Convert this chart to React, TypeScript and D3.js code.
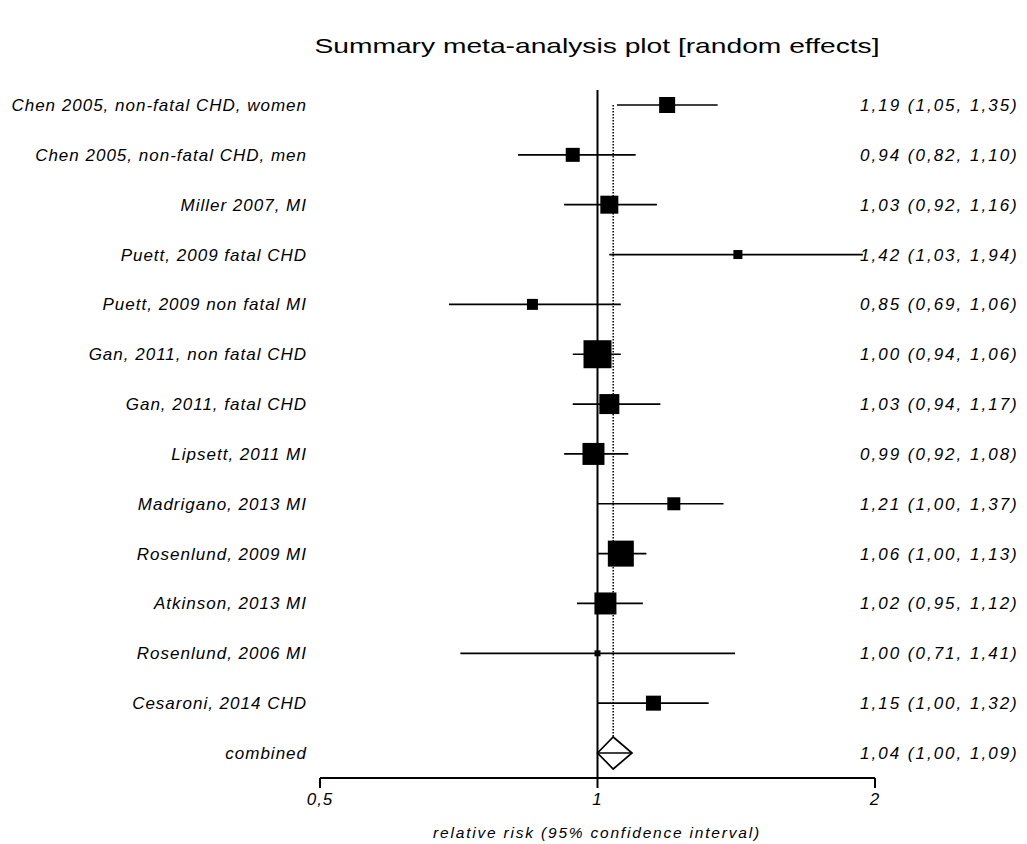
import React from 'react';
import * as d3 from 'd3';

// study rows
const studies = [
    "Chen 2005, non-fatal CHD, women",
    "Chen 2005, non-fatal CHD, men",
    "Miller 2007, MI",
    "Puett, 2009 fatal CHD",
    "Puett, 2009 non fatal MI",
    "Gan, 2011, non fatal CHD",
    "Gan, 2011, fatal CHD",
    "Lipsett, 2011 MI",
    "Madrigano, 2013 MI",
    "Rosenlund, 2009 MI",
    "Atkinson, 2013 MI",
    "Rosenlund, 2006 MI",
    "Cesaroni, 2014 CHD",
];
const rr = [1.19, 0.94, 1.03, 1.42, 0.85, 1.00, 1.03, 0.99, 1.21, 1.06, 1.02, 1.00, 1.15];
const lower = [1.05, 0.82, 0.92, 1.03, 0.69, 0.94, 0.94, 0.92, 1.00, 1.00, 0.95, 0.71, 1.00];
const upper = [1.35, 1.10, 1.16, 1.94, 1.06, 1.06, 1.17, 1.08, 1.37, 1.13, 1.12, 1.41, 1.32];
// relative weights (square side)
const weights = [16, 14, 18, 9, 11, 28, 20, 22, 13, 26, 22, 6, 15];

const combinedLabel = "combined";
const combined = [1.04, 1.00, 1.09];

const xTicks = [0.5, 1, 2];
const xTickLabels = ["0,5", "1", "2"];

const fmt = (v: number) => d3.format(".2f")(v).replace(".", ",");

export default function App() {
    const width = 1027;
    const height = 844;
    const font = "'Liberation Sans', Arial, sans-serif";

    const x = d3.scaleLog().base(2).domain([0.5, 2]).range([320, 875]);
    const rows = d3.range(studies.length + 1);
    const y = d3.scalePoint<number>().domain(rows).range([105, 753]);

    const axisY = 778;
    const yc = y(studies.length) as number;
    const dh = 16;

    const labelProps = { fontSize: 17, fontStyle: "italic", letterSpacing: 1.0 } as const;
    const valueProps = { fontSize: 17, fontStyle: "italic", letterSpacing: 2.0 } as const;

    return (
        <svg width={width} height={height} style={{ position: 'absolute', left: 0, top: 0, background: '#fff' }}
            fontFamily={font}>
            <text x={597} y={53} textAnchor="middle" fontSize={21} textLength={565} lengthAdjust="spacingAndGlyphs">
                Summary meta-analysis plot [random effects]
            </text>

            {/* null line */}
            <line x1={x(1)} x2={x(1)} y1={90} y2={axisY} stroke="#000" strokeWidth={2} />
            {/* combined estimate line */}
            <line x1={x(combined[0])} x2={x(combined[0])} y1={y(0)} y2={yc - dh}
                stroke="#000" strokeWidth={1.5} strokeDasharray="1.5,1.5" />

            {studies.map((s, i) => {
                const yy = y(i) as number;
                const w = weights[i];
                return (
                    <g key={s}>
                        <text x={307} y={yy + 6} textAnchor="end" {...labelProps}>{s}</text>
                        <line x1={x(lower[i])} x2={x(upper[i])} y1={yy} y2={yy} stroke="#000" strokeWidth={1.7} />
                        <rect x={x(rr[i]) - w / 2} y={yy - w / 2} width={w} height={w} fill="#000" />
                        <text x={860} y={yy + 6} {...valueProps}>
                            {fmt(rr[i]) + " (" + fmt(lower[i]) + ", " + fmt(upper[i]) + ")"}
                        </text>
                    </g>
                );
            })}

            {/* combined */}
            <text x={307} y={yc + 6} textAnchor="end" {...labelProps}>{combinedLabel}</text>
            <line x1={x(combined[1])} x2={x(combined[2])} y1={yc} y2={yc} stroke="#000" strokeWidth={1.7} />
            <path d={`M${x(combined[1])},${yc} L${x(combined[0])},${yc - dh} L${x(combined[2])},${yc} L${x(combined[0])},${yc + dh} Z`}
                fill="#fff" fillOpacity={0} stroke="#000" strokeWidth={1.7} />
            <text x={860} y={yc + 6} {...valueProps}>
                {fmt(combined[0]) + " (" + fmt(combined[1]) + ", " + fmt(combined[2]) + ")"}
            </text>

            {/* axis */}
            <line x1={x(0.5)} x2={x(2)} y1={axisY} y2={axisY} stroke="#000" strokeWidth={2} />
            {xTicks.map((t, i) => (
                <g key={t}>
                    <line x1={x(t)} x2={x(t)} y1={axisY} y2={axisY + 10} stroke="#000" strokeWidth={2} />
                    <text x={x(t)} y={axisY + 27} textAnchor="middle" fontSize={17} fontStyle="italic" letterSpacing={1}>
                        {xTickLabels[i]}
                    </text>
                </g>
            ))}
            <text x={597} y={838} textAnchor="middle" fontSize={15.5} fontStyle="italic" letterSpacing={1.8}>
                relative risk (95% confidence interval)
            </text>
        </svg>
    );
}
